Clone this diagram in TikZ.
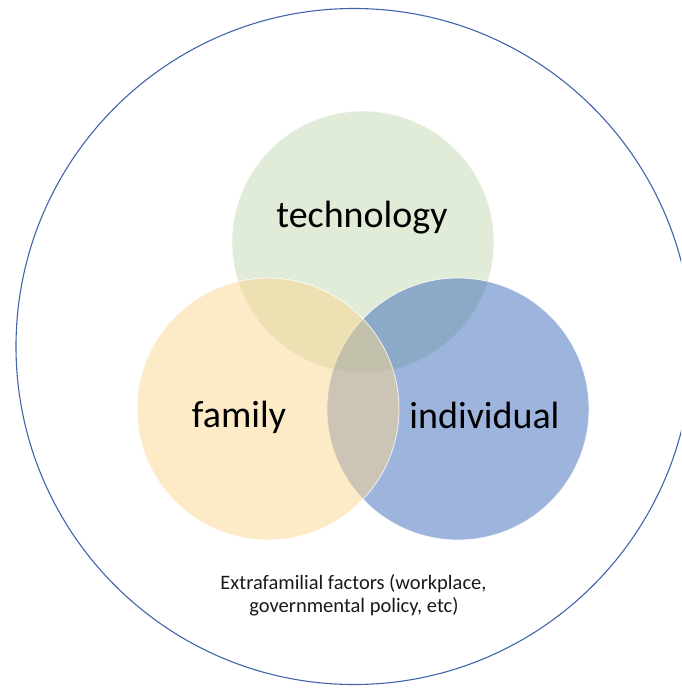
\documentclass[tikz,border=0pt]{standalone}
\usepackage{fontspec}
\setmainfont{Carlito}
\definecolor{techc}{RGB}{193,215,177}
\definecolor{famc}{RGB}{251,215,145}
\definecolor{indc}{RGB}{59,105,185}
\definecolor{ringc}{RGB}{66,100,170}
\begin{document}
\begin{tikzpicture}[x=1pt,y=-1pt,
  venn/.style={circle,minimum size=262pt,inner sep=0pt,fill opacity=0.5,draw=white,draw opacity=0.8,line width=0.8pt},
  biglabel/.style={font=\fontsize{38}{40}\selectfont,anchor=base,inner sep=0pt},
  smalllabel/.style={font=\fontsize{20.5}{23.5}\selectfont,anchor=base,inner sep=0pt,text=black!90}]
\useasboundingbox (0,0) rectangle (681,688);
\clip (0,0) rectangle (681,688);
\node[circle,draw=ringc,line width=1.1pt,minimum size=676pt,inner sep=0pt] (outer) at (354,346.5) {};
\node[venn,fill=techc] (tech) at (363,242) {};
\node[venn,fill=indc] (ind) at (458,409) {};
\node[venn,fill=famc] (fam) at (268,409) {};
\node[biglabel] (techl) at (362,227) {technology};
\node[biglabel] (faml) at (239,427) {family};
\node[biglabel] (indl) at (484.5,428) {individual};
\node[smalllabel] (ext1) at (353.5,589) {Extrafamilial factors (workplace,};
\node[smalllabel] (ext2) at (354,612) {governmental policy, etc)};
\end{tikzpicture}
\end{document}
